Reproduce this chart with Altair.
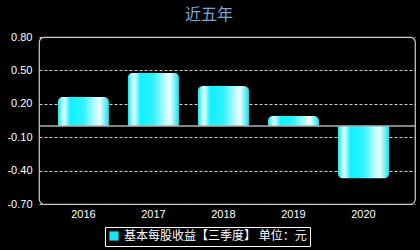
import altair as alt
import pandas as pd

years = ["2016", "2017", "2018", "2019", "2020"]
values = [0.26, 0.48, 0.36, 0.09, -0.47]
series_label = "基本每股收益【三季度】 单位：元"
y_ticks = [-0.7, -0.4, -0.1, 0.2, 0.5, 0.8]

df = pd.DataFrame({"year": years, "value": values, "series": [series_label] * len(years)})

grad = alt.Gradient(
    gradient="linear",
    x1=0, x2=1, y1=0, y2=0,
    stops=[
        alt.GradientStop(color="#10e4ee", offset=0),
        alt.GradientStop(color="#e8ffff", offset=0.12),
        alt.GradientStop(color="#10f0ff", offset=0.25),
        alt.GradientStop(color="#30f2ff", offset=0.5),
        alt.GradientStop(color="#f0ffff", offset=0.82),
        alt.GradientStop(color="#10e4ee", offset=1),
    ],
)

x_enc = alt.X(
    "year:N",
    title=None,
    scale=alt.Scale(paddingInner=0.27, paddingOuter=0.32, align=0.42),
    axis=alt.Axis(labelAngle=0, ticks=False, domain=False, labelPadding=4,
                  labelColor="#ffffff", labelFontSize=11, labelFont="Liberation Sans"),
)
y_enc = alt.Y(
    "value:Q",
    title=None,
    scale=alt.Scale(domain=[-0.7, 0.8], nice=False, zero=False),
    axis=alt.Axis(values=y_ticks, tickCount=12, ticks=False, domain=False, labelPadding=7,
                  labelOverlap=False,
                  labelExpr="replace(format(datum.value, '.2f'), '\u2212', '-')",
                  labelColor="#ffffff", labelFontSize=11, labelFont="Liberation Sans",
                  grid=True, gridColor="#d0d0d0", gridDash=[3, 2], gridWidth=1),
)

base = alt.Chart(df)

bars_pos = base.transform_filter("datum.value >= 0").mark_bar(
    fill=grad, cornerRadiusTopLeft=5, cornerRadiusTopRight=5
).encode(x=x_enc, y=y_enc)

bars_neg = base.transform_filter("datum.value < 0").mark_bar(
    fill=grad, cornerRadiusBottomLeft=5, cornerRadiusBottomRight=5
).encode(x=x_enc, y=y_enc)

legend_layer = base.mark_square(opacity=0, size=100).encode(
    x=alt.X("year:N"),
    y=alt.Y("value:Q"),
    color=alt.Color(
        "series:N",
        scale=alt.Scale(range=["#19e3f5"]),
        legend=alt.Legend(
            title=None, orient="none", legendX=66, legendY=190,
            symbolType="square", symbolSize=100, symbolOpacity=1,
            symbolStrokeColor="#222222", symbolStrokeWidth=1,
            labelColor="#ffffff", labelFontSize=12, labelFont="Noto Sans CJK SC",
            labelOffset=4, padding=3, strokeColor="#ffffff", fillColor="#000000",
            labelLimit=300,
        ),
    ),
)

zero = alt.Chart(pd.DataFrame({"z": [0]})).mark_rule(color="#b0b0b0", strokeWidth=1.5).encode(
    y=alt.Y("z:Q", scale=alt.Scale(domain=[-0.7, 0.8], nice=False, zero=False))
)

chart = alt.layer(bars_pos, bars_neg, zero, legend_layer).properties(
    width=376,
    height=167,
    background="#000000",
    padding={"left": 39, "top": 37, "right": 5, "bottom": 46},
    autosize=alt.AutoSizeParams(type="none"),
    title=alt.TitleParams("近五年", color="#7aa6d6", fontSize=16, fontWeight="normal",
                          font="Noto Sans CJK SC", anchor="middle", dx=-18, offset=8),
).configure_view(stroke="#cccccc", strokeWidth=1.2, cornerRadius=5)

chart.save("out.html", embed_options={"renderer": "svg", "actions": False})
